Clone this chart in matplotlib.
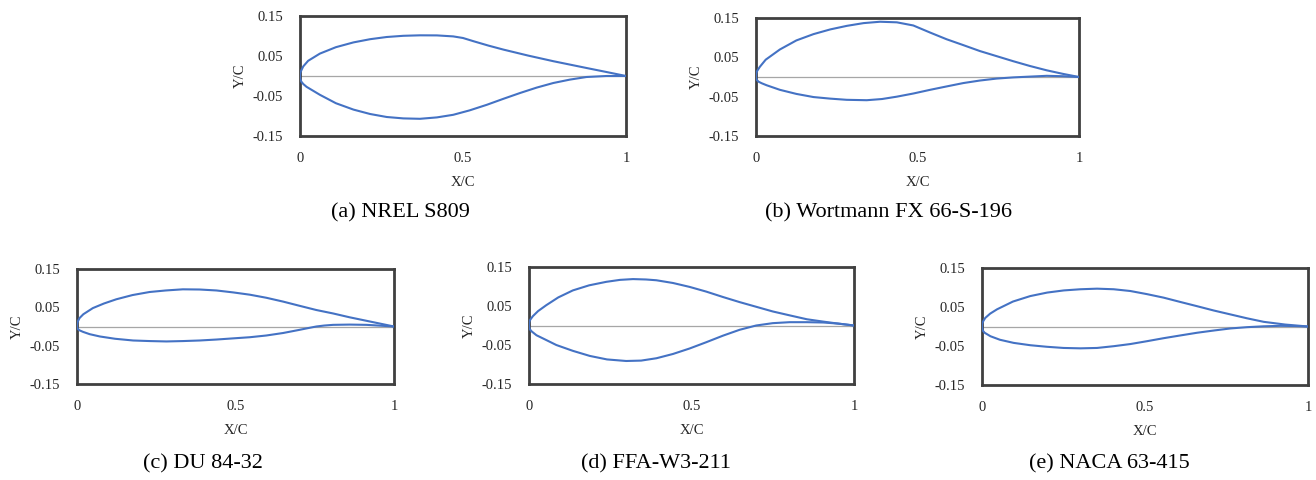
import matplotlib
matplotlib.use("Agg")
import matplotlib.pyplot as plt

plt.rcParams['font.family'] = ['Liberation Serif', 'DejaVu Serif']

# ---- data ----
# (a) NREL S809
s809_xu = [0, 0.001, 0.004, 0.010, 0.025, 0.061, 0.110, 0.164, 0.215, 0.266, 0.317, 0.368, 0.420, 0.470, 0.500, 0.532, 0.578, 0.624, 0.700, 0.777, 0.879, 0.940, 1.0]
s809_yu = [0, 0.008, 0.014, 0.024, 0.038, 0.056, 0.072, 0.084, 0.092, 0.0975, 0.1005, 0.1017, 0.1015, 0.099, 0.095, 0.087, 0.076, 0.066, 0.051, 0.037, 0.020, 0.010, 0.0]
s809_xl = [0, 0.001, 0.004, 0.010, 0.020, 0.061, 0.110, 0.164, 0.215, 0.266, 0.317, 0.368, 0.420, 0.470, 0.520, 0.573, 0.624, 0.675, 0.726, 0.777, 0.828, 0.879, 0.940, 1.0]
s809_yl = [0, -0.008, -0.014, -0.020, -0.027, -0.047, -0.068, -0.084, -0.095, -0.1025, -0.106, -0.107, -0.1035, -0.097, -0.086, -0.072, -0.057, -0.0425, -0.029, -0.0175, -0.009, -0.0025, 0.0, 0.0]

# (b) Wortmann FX 66-S-196
fx_xu = [0, 0.001, 0.004, 0.012, 0.030, 0.074, 0.125, 0.178, 0.230, 0.281, 0.333, 0.384, 0.436, 0.487, 0.539, 0.590, 0.642, 0.693, 0.745, 0.797, 0.848, 0.900, 0.950, 1.0]
fx_yu = [0, 0.010, 0.016, 0.026, 0.044, 0.070, 0.093, 0.109, 0.121, 0.130, 0.137, 0.1405, 0.139, 0.131, 0.113, 0.096, 0.081, 0.066, 0.053, 0.040, 0.028, 0.017, 0.008, 0.0]
fx_xl = [0, 0.002, 0.008, 0.018, 0.033, 0.074, 0.125, 0.178, 0.230, 0.281, 0.343, 0.390, 0.436, 0.487, 0.539, 0.590, 0.642, 0.693, 0.745, 0.797, 0.848, 0.900, 0.950, 1.0]
fx_yl = [0, -0.007, -0.012, -0.016, -0.021, -0.0326, -0.043, -0.051, -0.055, -0.058, -0.059, -0.056, -0.050, -0.042, -0.0326, -0.024, -0.0154, -0.009, -0.004, -0.001, 0.001, 0.003, 0.002, 0.0]

# (c) DU 84-32
du_xu = [0, 0.001, 0.003, 0.008, 0.020, 0.050, 0.085, 0.124, 0.175, 0.229, 0.280, 0.334, 0.387, 0.440, 0.492, 0.545, 0.597, 0.650, 0.702, 0.755, 0.808, 0.860, 0.930, 1.0]
du_yu = [0, 0.009, 0.014, 0.022, 0.032, 0.048, 0.060, 0.071, 0.082, 0.090, 0.094, 0.097, 0.0965, 0.094, 0.089, 0.083, 0.075, 0.065, 0.054, 0.043, 0.034, 0.024, 0.012, 0.0]
du_xl = [0, 0.002, 0.008, 0.019, 0.040, 0.072, 0.120, 0.177, 0.230, 0.282, 0.334, 0.387, 0.440, 0.492, 0.545, 0.597, 0.650, 0.702, 0.730, 0.755, 0.780, 0.808, 0.860, 0.913, 0.960, 1.0]
du_yl = [0, -0.006, -0.010, -0.014, -0.020, -0.026, -0.032, -0.0365, -0.038, -0.039, -0.038, -0.0365, -0.034, -0.031, -0.028, -0.0235, -0.017, -0.0087, -0.004, 0.0, 0.0025, 0.0043, 0.005, 0.0043, 0.002, 0.0]

# (d) FFA-W3-211
ffa_xu = [0, 0.001, 0.004, 0.012, 0.028, 0.053, 0.090, 0.135, 0.185, 0.238, 0.280, 0.320, 0.360, 0.392, 0.443, 0.494, 0.545, 0.597, 0.648, 0.699, 0.750, 0.802, 0.855, 0.905, 0.950, 1.0]
ffa_yu = [0, 0.009, 0.015, 0.024, 0.037, 0.052, 0.072, 0.090, 0.103, 0.112, 0.117, 0.119, 0.118, 0.116, 0.109, 0.099, 0.087, 0.073, 0.060, 0.048, 0.036, 0.026, 0.016, 0.010, 0.005, 0.0]
ffa_xl = [0, 0.002, 0.008, 0.023, 0.050, 0.084, 0.135, 0.187, 0.240, 0.299, 0.345, 0.392, 0.443, 0.494, 0.545, 0.597, 0.648, 0.699, 0.750, 0.802, 0.855, 0.905, 0.950, 1.0]
ffa_yl = [0, -0.009, -0.015, -0.025, -0.036, -0.050, -0.065, -0.078, -0.087, -0.091, -0.090, -0.084, -0.073, -0.059, -0.043, -0.026, -0.011, 0.0, 0.006, 0.0085, 0.0085, 0.0077, 0.005, 0.0]

# (e) NACA 63-415
naca_xu = [0, 0.001, 0.004, 0.010, 0.025, 0.046, 0.095, 0.148, 0.200, 0.251, 0.302, 0.353, 0.404, 0.455, 0.506, 0.557, 0.608, 0.660, 0.711, 0.762, 0.813, 0.864, 0.930, 1.0]
naca_yu = [0, 0.008, 0.014, 0.022, 0.033, 0.044, 0.064, 0.078, 0.087, 0.0925, 0.0955, 0.097, 0.0955, 0.091, 0.083, 0.074, 0.063, 0.052, 0.041, 0.031, 0.021, 0.012, 0.005, 0.0]
naca_xl = [0, 0.002, 0.008, 0.026, 0.055, 0.097, 0.148, 0.199, 0.250, 0.302, 0.353, 0.404, 0.455, 0.506, 0.557, 0.608, 0.660, 0.711, 0.762, 0.813, 0.864, 0.915, 0.960, 1.0]
naca_yl = [0, -0.010, -0.016, -0.025, -0.034, -0.042, -0.048, -0.052, -0.055, -0.056, -0.055, -0.0505, -0.045, -0.0377, -0.030, -0.023, -0.016, -0.0103, -0.005, -0.0017, 0.0005, 0.0017, 0.0012, 0.0]

captions = ["(a) NREL S809", "(b) Wortmann FX 66-S-196", "(c) DU 84-32",
            "(d) FFA-W3-211", "(e) NACA 63-415"]
x_ticks = [0, 0.5, 1]
x_tick_labels = ["0", "0.5", "1"]
y_ticks = [-0.15, -0.05, 0.05, 0.15]
y_tick_labels = ["-0.15", "-0.05", "0.05", "0.15"]

airfoils = [
    (s809_xu, s809_yu, s809_xl, s809_yl),
    (fx_xu, fx_yu, fx_xl, fx_yl),
    (du_xu, du_yu, du_xl, du_yl),
    (ffa_xu, ffa_yu, ffa_xl, ffa_yl),
    (naca_xu, naca_yu, naca_xl, naca_yl),
]

# ---- layout ----
W, H = 1316, 480
fig = plt.figure(figsize=(W / 100, H / 100), dpi=100)

# axes boxes in pixels: left, top, right, bottom
boxes = [(300, 16, 626, 136), (756, 18, 1079, 136),
         (77, 269, 394, 384), (529, 267, 854, 384), (982, 268, 1308, 385)]
cap_pos = [(400, 213), (889, 213), (203, 464), (656, 464), (1109, 464)]

line_color = '#4472C4'
for (xu, yu, xl, yl), (l, t, r, b), cap, (cx, cy) in zip(airfoils, boxes, captions, cap_pos):
    ax = fig.add_axes([l / W, 1 - b / H, (r - l) / W, (b - t) / H])
    ax.axhline(0, color='#A6A6A6', lw=0.9, zorder=1)
    ax.plot(xu, yu, color=line_color, lw=1.5, zorder=3, solid_joinstyle='round')
    ax.plot(xl, yl, color=line_color, lw=1.5, zorder=3, solid_joinstyle='round')
    ax.set_xlim(0, 1)
    ax.set_ylim(-0.15, 0.15)
    ax.set_xticks(x_ticks)
    ax.set_xticklabels(x_tick_labels)
    ax.set_yticks(y_ticks)
    ax.set_yticklabels(y_tick_labels)
    ax.tick_params(axis='both', length=0, labelsize=10.5, colors='#262626')
    ax.tick_params(axis='y', pad=12)
    ax.tick_params(axis='x', pad=11.5)
    for sp in ax.spines.values():
        sp.set_color('#404040')
        sp.set_linewidth(2.0)
    ax.set_xlabel("X/C", fontsize=10.5, color='#262626', labelpad=8)
    ax.set_ylabel("Y/C", fontsize=10.5, color='#262626', labelpad=4)
    fig.text(cx / W, 1 - cy / H, cap, ha='center', va='center', fontsize=16, color='black')

fig.savefig("out.png", dpi=100)
